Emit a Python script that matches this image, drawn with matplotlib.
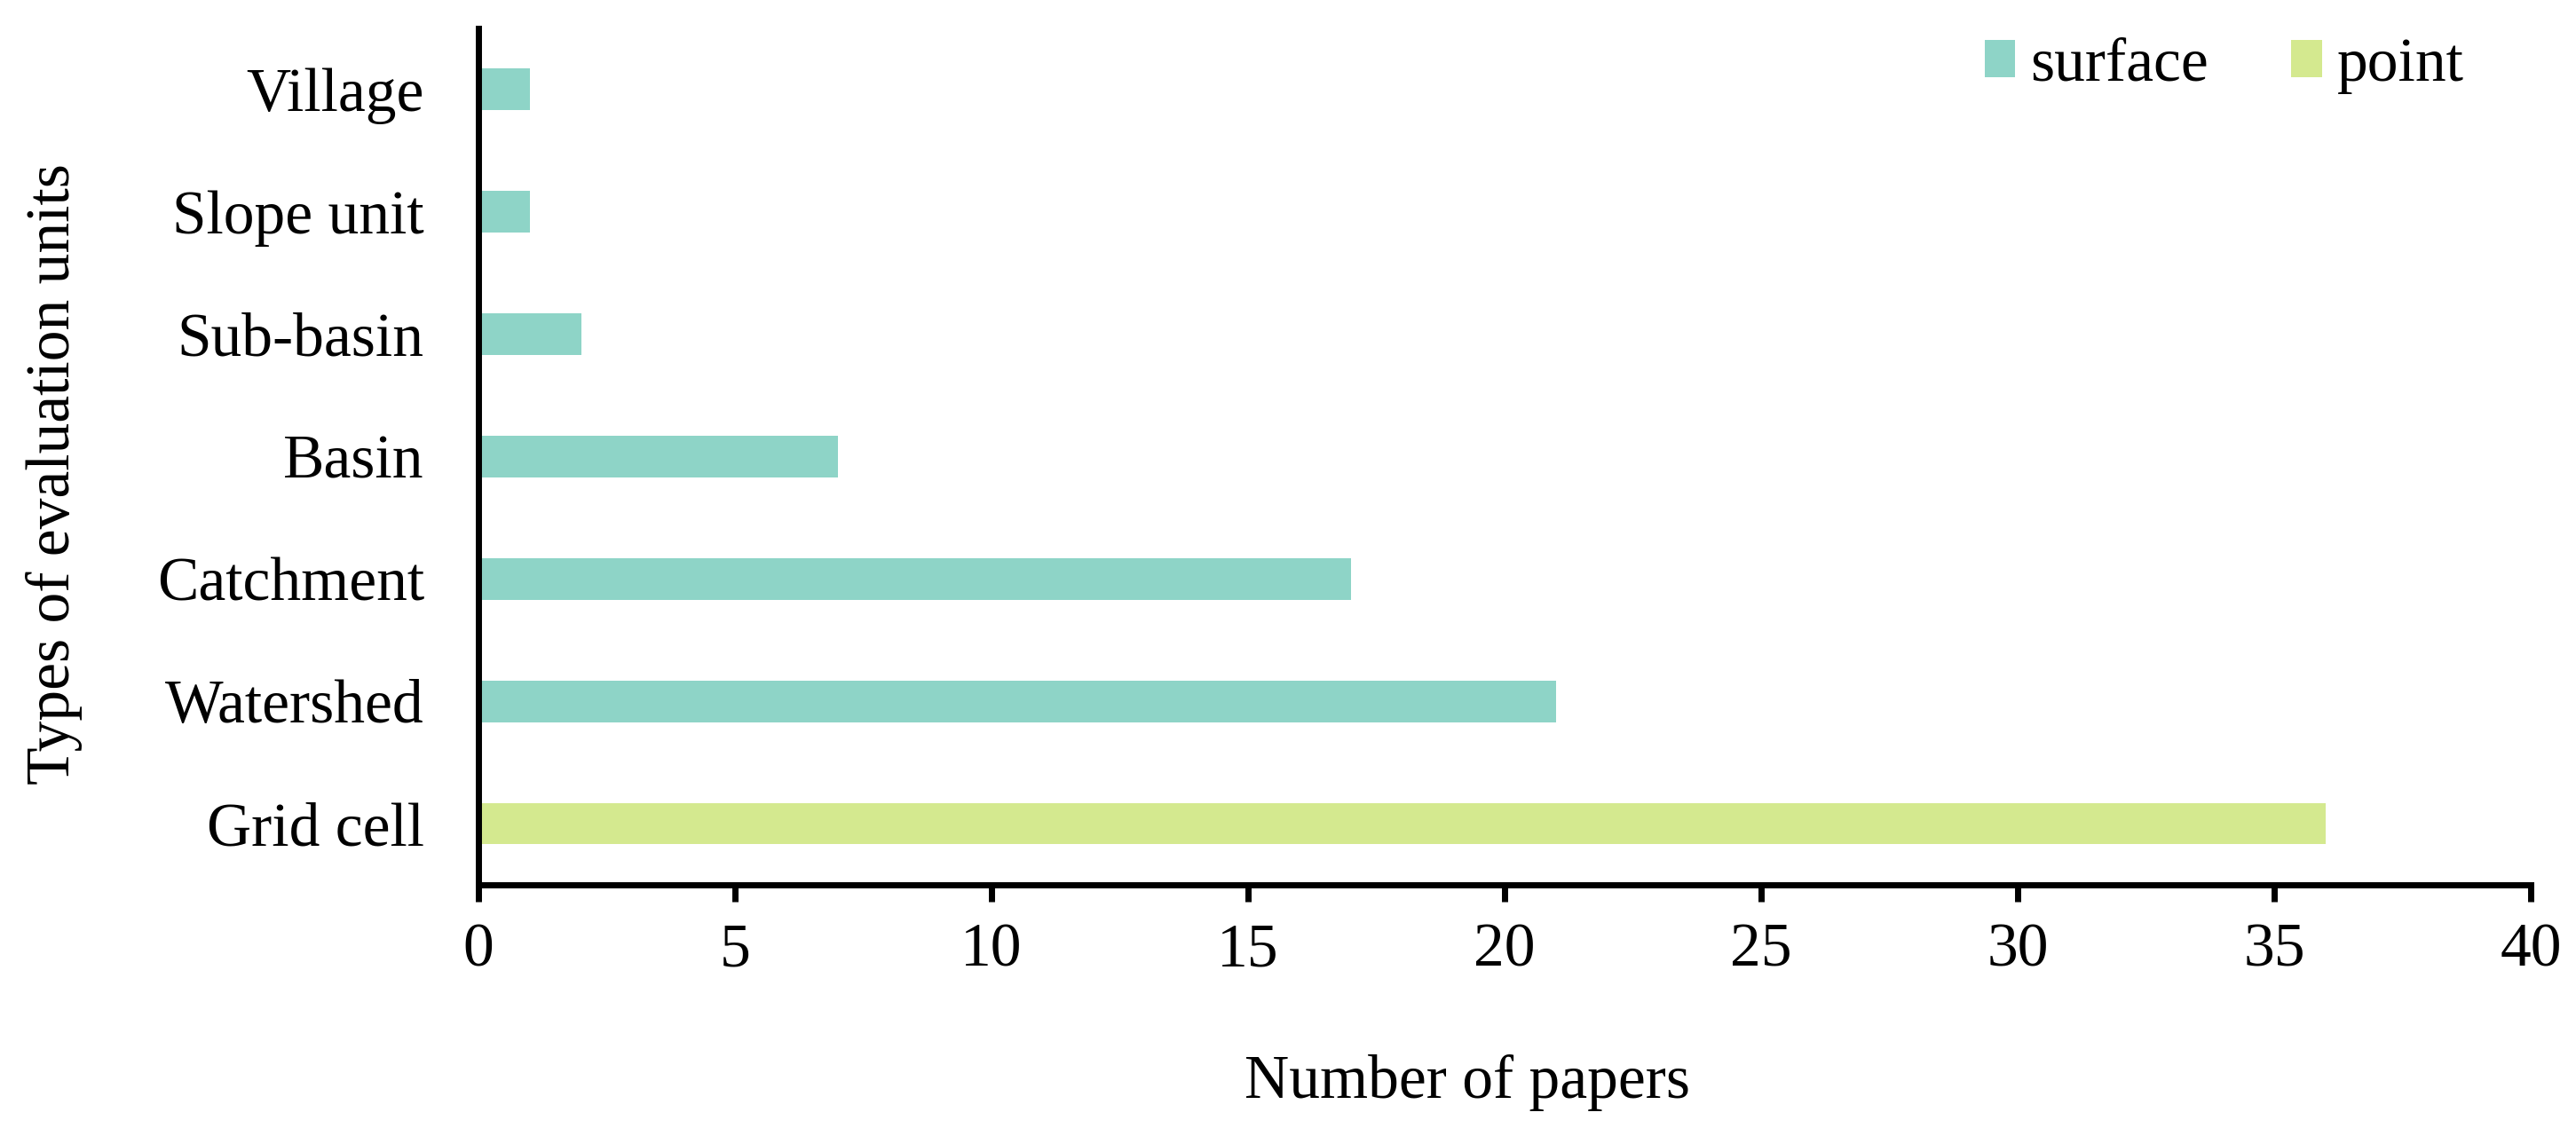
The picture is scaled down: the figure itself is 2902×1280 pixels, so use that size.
import matplotlib
matplotlib.use("Agg")
import matplotlib.pyplot as plt
from matplotlib.patches import Patch

# Data (bottom to top)
categories = ["Grid cell", "Watershed", "Catchment", "Basin", "Sub-basin", "Slope unit", "Village"]
papers = [36, 21, 17, 7, 2, 1, 1]
unit_type = ["point", "surface", "surface", "surface", "surface", "surface", "surface"]

type_colors = {"surface": "#8ed4c7", "point": "#d4e98f"}
legend_order = ["surface", "point"]

plt.rcParams["font.family"] = ["Liberation Serif", "DejaVu Serif"]
fs = 50

fig = plt.figure(figsize=(29.02, 12.8), dpi=100)
ax = fig.add_axes([0.1857, 0.2211, 0.7967, 0.7539])

ypos = list(range(len(categories)))
ax.barh(ypos, papers, height=0.34, color=[type_colors[t] for t in unit_type])

ax.set_xlim(0, 40)
ax.set_ylim(-0.5, 6.5)
ax.set_xticks(range(0, 41, 5))
ax.set_yticks(ypos)
ax.set_yticklabels(categories)

for side in ["top", "right"]:
    ax.spines[side].set_visible(False)
for side in ["left", "bottom"]:
    ax.spines[side].set_linewidth(5)

ax.tick_params(axis="x", direction="out", length=14, width=5, labelsize=fs, pad=17)
ax.tick_params(axis="y", length=0, labelsize=fs, pad=44)

ax.set_xlabel("Number of papers", fontsize=fs)
ax.xaxis.set_label_coords(0.482, -0.198)
ax.set_ylabel("Types of evaluation units", fontsize=fs)
ax.yaxis.set_label_coords(-0.193, 0.48)

handles = [Patch(facecolor=type_colors[t], label=t) for t in legend_order]
fig.legend(handles=handles, loc="upper right", bbox_to_anchor=(0.978, 1.016),
           ncol=2, frameon=False, fontsize=fs, handlelength=0.5, handleheight=0.55,
           handletextpad=0.24, columnspacing=1.35)

fig.savefig("out.png", dpi=100)
